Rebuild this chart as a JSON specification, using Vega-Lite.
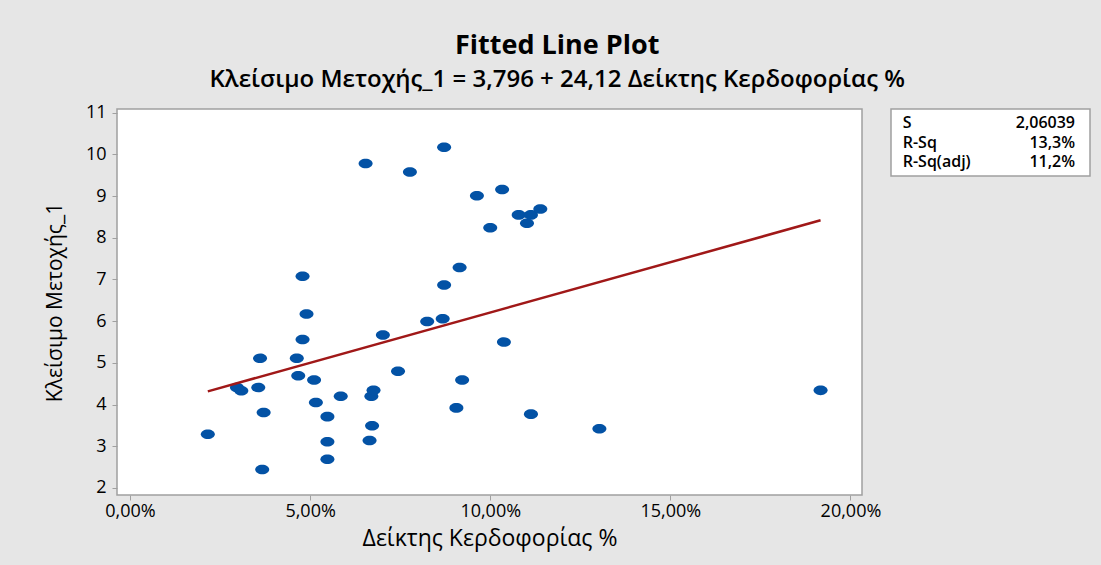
{
  "$schema": "https://vega.github.io/schema/vega-lite/v6.json",
  "background": "#e6e6e6",
  "padding": {"left": 43, "top": 32, "right": 11, "bottom": 14},
  "bounds": "flush",
  "title": {
    "text": "Fitted Line Plot",
    "subtitle": "Κλείσιμο Μετοχής_1 = 3,796 + 24,12 Δείκτης Κερδοφορίας %",
    "anchor": "middle",
    "dx": -10,
    "font": "Open Sans",
    "fontSize": 27,
    "fontWeight": "bold",
    "color": "black",
    "subtitleFont": "Open Sans",
    "subtitleFontSize": 24,
    "subtitleFontWeight": 600,
    "subtitleColor": "black",
    "subtitlePadding": 8,
    "offset": 10
  },
  "spacing": 29,
  "config": {
    "view": {"fill": "white", "stroke": "#a0a0a0", "strokeWidth": 1.5},
    "axis": {
      "labelFont": "Open Sans",
      "labelFontSize": 18,
      "labelColor": "black",
      "labelFontWeight": 500,
      "titleFont": "Open Sans",
      "titleColor": "black",
      "titleFontWeight": "normal",
      "tickColor": "#a0a0a0",
      "tickSize": 5,
      "domain": false,
      "grid": false
    }
  },
  "hconcat": [
    {
      "width": 745,
      "height": 386,
      "data": {
        "values": [
          {"x": 0.0216, "y": 3.29}, {"x": 0.0297, "y": 4.41}, {"x": 0.0309, "y": 4.33},
          {"x": 0.0356, "y": 4.41}, {"x": 0.0361, "y": 5.11}, {"x": 0.0371, "y": 3.81},
          {"x": 0.0367, "y": 2.44}, {"x": 0.0463, "y": 5.11}, {"x": 0.0467, "y": 4.69},
          {"x": 0.0479, "y": 7.08}, {"x": 0.0479, "y": 5.56}, {"x": 0.0490, "y": 6.17},
          {"x": 0.0511, "y": 4.59}, {"x": 0.0516, "y": 4.05}, {"x": 0.0548, "y": 3.71},
          {"x": 0.0548, "y": 3.11}, {"x": 0.0548, "y": 2.69}, {"x": 0.0585, "y": 4.20},
          {"x": 0.0654, "y": 9.78}, {"x": 0.0665, "y": 3.14}, {"x": 0.0672, "y": 3.49},
          {"x": 0.0670, "y": 4.20}, {"x": 0.0676, "y": 4.34}, {"x": 0.0702, "y": 5.67},
          {"x": 0.0744, "y": 4.80}, {"x": 0.0777, "y": 9.58}, {"x": 0.0825, "y": 5.99},
          {"x": 0.0868, "y": 6.06}, {"x": 0.0872, "y": 10.17}, {"x": 0.0872, "y": 6.87},
          {"x": 0.0906, "y": 3.92}, {"x": 0.0915, "y": 7.29}, {"x": 0.0922, "y": 4.59},
          {"x": 0.0963, "y": 9.01}, {"x": 0.1000, "y": 8.24}, {"x": 0.1033, "y": 9.16},
          {"x": 0.1038, "y": 5.50}, {"x": 0.1079, "y": 8.55}, {"x": 0.1102, "y": 8.35},
          {"x": 0.1113, "y": 8.55}, {"x": 0.1139, "y": 8.69}, {"x": 0.1113, "y": 3.77},
          {"x": 0.1303, "y": 3.42}, {"x": 0.1917, "y": 4.34}
        ]
      },
      "layer": [
        {
          "mark": {
            "type": "point",
            "filled": true,
            "opacity": 1,
            "color": "#0352a5",
            "size": 196,
            "shape": "M-1,0A1,0.68,0,1,1,1,0A1,0.68,0,1,1,-1,0Z"
          },
          "encoding": {
            "x": {
              "field": "x",
              "type": "quantitative",
              "scale": {"domain": [-0.00361, 0.2032], "nice": false, "zero": false},
              "axis": {
                "values": [0, 0.05, 0.1, 0.15, 0.2],
                "labelExpr": "replace(format(datum.value, '.2%'), '.', ',')",
                "title": "Δείκτης Κερδοφορίας %",
                "titleFontSize": 23,
                "titlePadding": 7,
                "labelPadding": 2
              }
            },
            "y": {
              "field": "y",
              "type": "quantitative",
              "scale": {"domain": [1.83, 11.09], "nice": false, "zero": false},
              "axis": {
                "values": [2, 3, 4, 5, 6, 7, 8, 9, 10, 11],
                "title": "Κλείσιμο Μετοχής_1",
                "titleFontSize": 21,
                "titlePadding": 20,
                "labelPadding": 6
              }
            }
          }
        },
        {
          "data": {
            "values": [
              {"x": 0.0216, "fit": 4.317},
              {"x": 0.1917, "fit": 8.42}
            ]
          },
          "mark": {"type": "line", "color": "#a01818", "strokeWidth": 2.5},
          "encoding": {
            "x": {"field": "x", "type": "quantitative"},
            "y": {"field": "fit", "type": "quantitative"}
          }
        }
      ]
    },
    {
      "width": 199,
      "height": 67,
      "data": {
        "values": [
          {"stat": "S", "value": "2,06039"},
          {"stat": "R-Sq", "value": "13,3%"},
          {"stat": "R-Sq(adj)", "value": "11,2%"}
        ]
      },
      "layer": [
        {
          "mark": {"type": "text", "align": "left", "baseline": "middle", "font": "Open Sans", "fontSize": 16, "fontWeight": 600, "color": "black"},
          "encoding": {
            "x": {"datum": 0, "type": "quantitative", "scale": {"domain": [-0.068, 1.087], "nice": false, "zero": false}, "axis": null},
            "y": {"field": "stat", "type": "nominal", "sort": ["S", "R-Sq", "R-Sq(adj)"], "scale": {"type": "point", "padding": 0.68}, "axis": null},
            "text": {"field": "stat"}
          }
        },
        {
          "mark": {"type": "text", "align": "right", "baseline": "middle", "font": "Open Sans", "fontSize": 16, "fontWeight": 600, "color": "black"},
          "encoding": {
            "x": {"datum": 1, "type": "quantitative"},
            "y": {"field": "stat", "type": "nominal", "sort": ["S", "R-Sq", "R-Sq(adj)"]},
            "text": {"field": "value"}
          }
        }
      ]
    }
  ]
}
